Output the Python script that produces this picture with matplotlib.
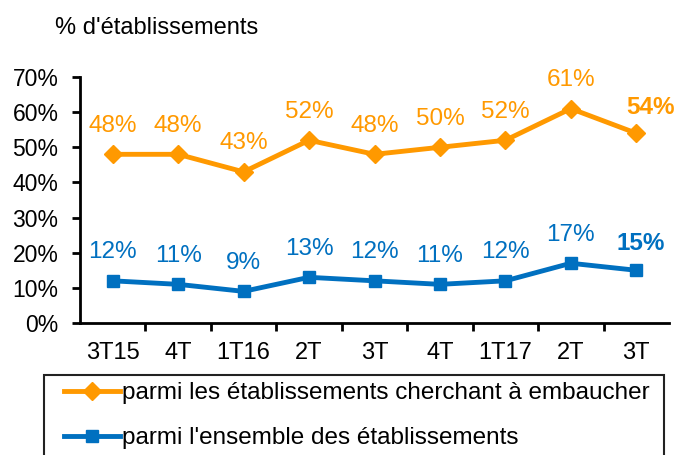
import matplotlib
matplotlib.use("Agg")
import matplotlib.pyplot as plt
from matplotlib.patches import Rectangle

categories = ["3T15", "4T", "1T16", "2T", "3T", "4T", "1T17", "2T", "3T"]
embaucher = [48, 48, 43, 52, 48, 50, 52, 61, 54]
ensemble = [12, 11, 9, 13, 12, 11, 12, 17, 15]
yticks = [0, 10, 20, 30, 40, 50, 60, 70]

ORANGE = "#FF9900"
BLUE = "#0070C0"
FONT = "Liberation Sans"
plt.rcParams["font.family"] = [FONT, "DejaVu Sans"]

W, H = 676, 455
fig = plt.figure(figsize=(W / 100, H / 100), dpi=100)
ax = fig.add_axes([80 / W, 1 - 323 / H, (669 - 80) / W, (323 - 77) / H])

x = list(range(len(categories)))
l1, = ax.plot(x, embaucher, color=ORANGE, lw=3.5, marker="D", ms=9, label="parmi les établissements cherchant à embaucher")
l2, = ax.plot(x, ensemble, color=BLUE, lw=3.5, marker="s", ms=9, label="parmi l'ensemble des établissements")

n = len(categories)
for i, (a, b) in enumerate(zip(embaucher, ensemble)):
    last = i == n - 1
    bold = "bold" if last else "normal"
    ax.annotate(f"{a}%", (i, a), xytext=(10 if last else 0, 18.5 if last else 20.5),
                textcoords="offset points",
                ha="center", va="center", color=ORANGE, fontsize=17.5, fontweight=bold)
    ax.annotate(f"{b}%", (i, b), xytext=(3 if last else 0, 19.5 if last else 20.5),
                textcoords="offset points",
                ha="center", va="center", color=BLUE, fontsize=17.5, fontweight=bold)

ax.set_xlim(-0.5, n - 0.5)
ax.set_ylim(0, 70)
ax.set_yticks(yticks)
ax.set_yticklabels([f"{v}%" for v in yticks], fontsize=16.5)
ax.set_xticks(x)
ax.set_xticklabels(categories, fontsize=17)
ax.tick_params(axis="x", length=0, pad=14)
ax.set_xticks([i + 0.5 for i in range(n - 1)], minor=True)
ax.tick_params(axis="x", which="minor", length=5.5, width=2, direction="out")
ax.tick_params(axis="y", length=5.5, width=2, direction="out", pad=10)
for s in ["top", "right"]:
    ax.spines[s].set_visible(False)
for s in ["left", "bottom"]:
    ax.spines[s].set_linewidth(2)

fig.text(55 / W, 1 - 28 / H, "% d'établissements", fontsize=17, va="center", ha="left")

rect = Rectangle((44 / W, -0.05), (664 - 44) / W, 1 - 375 / H + 0.05,
                 transform=fig.transFigure, fill=False, edgecolor="#222222", lw=1.5)
fig.patches.append(rect)
fig.legend(handles=[l1, l2], loc="upper left", bbox_to_anchor=(64 / W, 1 - 382 / H),
           frameon=False, fontsize=17.5, handlelength=2.3, handletextpad=0.1,
           labelspacing=0.95, borderaxespad=0, borderpad=0)

fig.savefig("out.png", dpi=100)
